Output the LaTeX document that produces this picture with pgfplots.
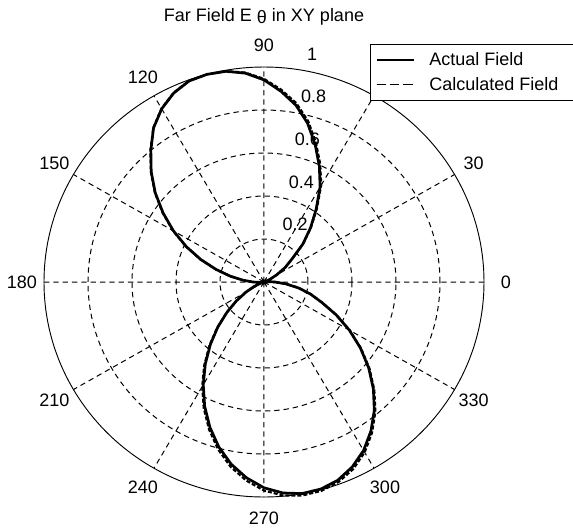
\documentclass[border=0pt]{standalone}
\usepackage{pgfplots}
\pgfplotsset{compat=1.18}
\usepgfplotslibrary{polar}
\usepackage{fontspec}
\setmainfont{Liberation Sans}

\begin{document}
\begin{tikzpicture}
\useasboundingbox (-198pt,-185.25pt) rectangle (231.75pt,211.5pt);
\begin{polaraxis}[
  at={(0pt,0pt)}, anchor=center,
  scale only axis, width=330pt, height=322.5pt,
  xmin=0, xmax=360, ymin=0, ymax=1,
  xtick={0,30,...,330}, ytick={0.2,0.4,0.6,0.8},
  xticklabels={}, yticklabels={},
  major tick length=0pt,
  grid=major,
  major grid style={black, line width=0.75pt, dash pattern=on 4pt off 3pt},
  separate axis lines,
  x axis line style={black, line width=0.7pt},
  y axis line style={draw=none},
  clip=false,
  font=\fontsize{13.5}{16}\selectfont,
  legend image code/.code={\draw[#1] (0pt,0pt) -- (28pt,0pt); \path (37pt,0pt);},
  legend style={at={(0.741,1.053)}, anchor=north west, draw=black,
    line width=0.7pt, fill=white, font=\fontsize{13.5}{16}\selectfont,
    inner xsep=4pt, inner ysep=4pt, row sep=3pt},
  legend cell align=left,
]
% measured pattern
\addplot[black, line width=2pt, line join=round, forget plot] coordinates {
(0,0.05) (5,0.018) (10,0.002) (15,0) (20,0.008) (25,0.03) (30,0.067) (35,0.117)
(40,0.165) (45,0.25) (50,0.329) (55,0.413) (60,0.51) (65,0.595) (70,0.68) (75,0.765)
(80,0.835) (85,0.89) (90,0.94) (95,0.975) (100,0.995) (105,1.0) (110,0.995) (115,0.97)
(120,0.93) (125,0.875) (130,0.8) (135,0.725) (140,0.645) (145,0.56) (150,0.475) (155,0.39)
(160,0.305) (165,0.225) (170,0.155) (175,0.095) (180,0.05) (185,0.02) (190,0.005) (195,0.002)
(200,0.019) (205,0.051) (210,0.095) (215,0.153) (220,0.22) (225,0.297) (230,0.379) (235,0.465)
(240,0.552) (245,0.638) (250,0.719) (255,0.794) (260,0.86) (265,0.914) (270,0.957) (275,0.985)
(280,0.999) (285,0.997) (290,0.981) (295,0.949) (300,0.905) (305,0.847) (310,0.78) (315,0.703)
(320,0.621) (325,0.535) (330,0.448) (335,0.362) (340,0.281) (345,0.22) (350,0.16) (355,0.1)
(360,0.05)};
% computed pattern
\addplot[black, line width=1.6pt, dash pattern=on 3pt off 1.5pt, line join=round, forget plot] coordinates {
(0,0.05) (5,0.018) (10,0.002) (15,0) (20,0.008) (25,0.03) (30,0.067) (35,0.117)
(40,0.168) (45,0.253) (50,0.333) (55,0.42) (60,0.52) (65,0.605) (70,0.69) (75,0.775)
(80,0.845) (85,0.898) (90,0.945) (95,0.978) (100,0.996) (105,1.0) (110,0.996) (115,0.972)
(120,0.932) (125,0.877) (130,0.803) (135,0.728) (140,0.648) (145,0.563) (150,0.478) (155,0.393)
(160,0.308) (165,0.228) (170,0.157) (175,0.096) (180,0.05) (185,0.02) (190,0.005) (195,0.002)
(200,0.019) (205,0.052) (210,0.097) (215,0.156) (220,0.224) (225,0.302) (230,0.386) (235,0.474)
(240,0.562) (245,0.648) (250,0.73) (255,0.806) (260,0.873) (265,0.927) (270,0.97) (275,0.997)
(280,1.008) (285,1.006) (290,0.99) (295,0.96) (300,0.915) (305,0.856) (310,0.788) (315,0.709)
(320,0.626) (325,0.539) (330,0.451) (335,0.364) (340,0.283) (345,0.221) (350,0.161) (355,0.1)
(360,0.05)};
\addlegendimage{black, line width=1.2pt}
\addlegendentry{Actual Field}
\addlegendimage{black, line width=1.2pt, dash pattern=on 7pt off 3pt}
\addlegendentry{Calculated Field\hspace*{20pt}}
% angle labels
\foreach \a in {0,30,...,330} {
  \edef\temp{\noexpand\node[anchor=center] at (axis cs:\a,1.1) {\a};}
  \temp
}
% radius labels
\foreach \r in {0.2,0.4,0.6,0.8,1} {
  \edef\temp{\noexpand\node[anchor=base west, inner sep=0pt, yshift=5pt] at (axis cs:82,\r+0.01) {\noexpand\hspace*{9pt}\r};}
  \temp
}
\end{polaraxis}
\node[anchor=base, font=\fontsize{13.5}{16}\selectfont] at (0pt,195pt) {Far Field E \raisebox{-1.5pt}{θ} in XY plane};
\end{tikzpicture}
\end{document}
